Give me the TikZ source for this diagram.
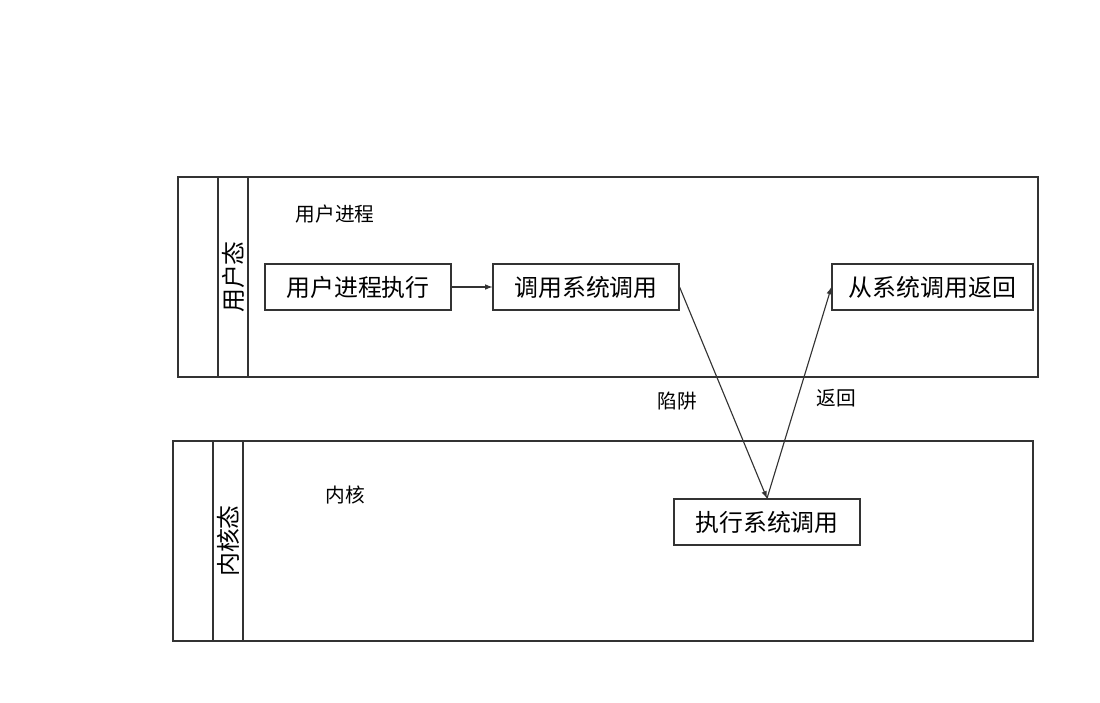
\documentclass[tikz,border=0pt]{standalone}
\usepackage{fontspec}
\setmainfont{Noto Sans CJK SC}
\usetikzlibrary{positioning}
\definecolor{linegray}{HTML}{333333}
\tikzset{
  procbox/.style={draw=linegray,thick,minimum width=186*0.025cm,minimum height=46*0.025cm,inner sep=0pt,font=\fontsize{17}{20}\selectfont},
  lanelabel/.style={font=\fontsize{17}{20}\selectfont,rotate=90},
  smalltext/.style={font=\fontsize{14}{17}\selectfont},
}
\begin{document}
\begin{tikzpicture}[x=0.025cm,y=-0.025cm,>=latex]
	\useasboundingbox (0,0) rectangle (1100,703);

	% user mode lane
	\draw[linegray,thick] (178,177) rectangle (1038,377);
	\draw[linegray,thick] (218,177) -- (218,377);
	\draw[linegray,thick] (248,177) -- (248,377);
	\node[lanelabel] (user) at (233,277) {用户态};
	\node[smalltext] (userproc) at (335,214) {用户进程};

	% kernel mode lane
	\draw[linegray,thick] (173,441) rectangle (1033,641);
	\draw[linegray,thick] (213,441) -- (213,641);
	\draw[linegray,thick] (243,441) -- (243,641);
	\node[lanelabel] (kernelmode) at (228,541) {内核态};
	\node[smalltext] (kernel) at (345,495) {内核};

	% process steps
	\node[procbox] (run) at (358,287) {用户进程执行};
	\node[procbox] (call) at (586,287) {调用系统调用};
	\node[procbox,minimum width=201*0.025cm] (back) at (932.5,287) {从系统调用返回};
	\node[procbox] (exec) at (767,522) {执行系统调用};

	% connectors
	\draw[linegray,thick,->] (run) -- (call);
	\draw[linegray,thick,->] (call.east) -- (exec.north);
	\draw[linegray,thick,->] (exec.north) -- (back.west);
	\node[smalltext] (trap) at (677,401) {陷阱};
	\node[smalltext] (ret) at (836,398) {返回};

\end{tikzpicture}
\end{document}
